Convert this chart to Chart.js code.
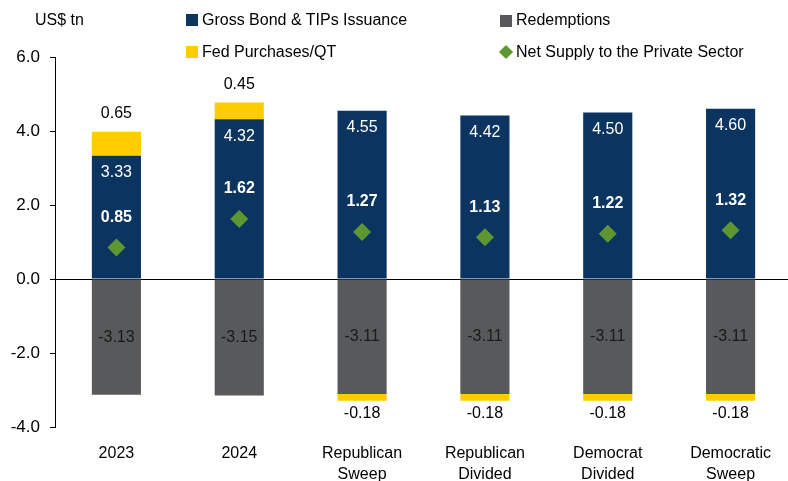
<!DOCTYPE html>
<html>
<head>
<meta charset="utf-8">
<script src="https://cdn.jsdelivr.net/npm/chart.js@4/dist/chart.umd.min.js"></script>
<style>
  body { margin: 0; overflow: hidden; background: #fff; font-family: "Liberation Sans", Arial, sans-serif; }
  #wrap { position: relative; width: 801px; height: 481px; }
  .lg { position: absolute; font-size: 16px; color: #000; white-space: nowrap; line-height: 16px; }
  .sw { position: absolute; width: 12px; height: 12px; }
  .dm { position: absolute; width: 10px; height: 10px; transform: rotate(45deg); }
</style>
</head>
<body>
<div id="wrap">
  <canvas id="chart-supply" width="801" height="481"></canvas>
  <div class="lg" style="left:35px;top:12px;">US$ tn</div>
  <div class="sw" style="left:186px;top:14px;background:#0b3560;"></div>
  <div class="lg" style="left:202px;top:12px;">Gross Bond &amp; TIPs Issuance</div>
  <div class="sw" style="left:500px;top:15px;background:#58595b;"></div>
  <div class="lg" style="left:516px;top:12px;">Redemptions</div>
  <div class="sw" style="left:186px;top:46px;background:#ffcc00;"></div>
  <div class="lg" style="left:202px;top:44px;">Fed Purchases/QT</div>
  <div class="dm" style="left:501px;top:47px;background:#5e9732;"></div>
  <div class="lg" style="left:516px;top:44px;">Net Supply to the Private Sector</div>
</div>
<script>
// Treasury supply by year / election scenario, US$ tn
const categories = [['2023'], ['2024'], ['Republican', 'Sweep'], ['Republican', 'Divided'], ['Democrat', 'Divided'], ['Democratic', 'Sweep']];
const grossIssuance = [3.33, 4.32, 4.55, 4.42, 4.50, 4.60];
const redemptions = [-3.13, -3.15, -3.11, -3.11, -3.11, -3.11];
const fedPurchases = [0.65, 0.45, -0.18, -0.18, -0.18, -0.18];
const netSupply = [0.85, 1.62, 1.27, 1.13, 1.22, 1.32];
const yTicks = [-4, -2, 0, 2, 4, 6];

const FONT = '"Liberation Sans", Arial, sans-serif';

// value labels on bars and points
const valueLabels = {
  id: 'valueLabels',
  afterDatasetsDraw(chart) {
    const ctx = chart.ctx;
    ctx.save();
    ctx.textAlign = 'center';
    ctx.textBaseline = 'middle';
    const gross = chart.getDatasetMeta(0).data;
    const red = chart.getDatasetMeta(1).data;
    const fed = chart.getDatasetMeta(2).data;
    const net = chart.getDatasetMeta(3).data;
    categories.forEach((c, i) => {
      ctx.font = '16px ' + FONT;
      ctx.fillStyle = '#ffffff';
      ctx.fillText(grossIssuance[i].toFixed(2), gross[i].x, gross[i].y + 17);

      ctx.fillStyle = '#1a1a1a';
      ctx.fillText(redemptions[i].toFixed(2), red[i].x, (red[i].y + red[i].base) / 2);

      ctx.fillStyle = '#000000';
      if (fedPurchases[i] >= 0) {
        ctx.fillText(fedPurchases[i].toFixed(2), fed[i].x, fed[i].y - 18);
      } else {
        ctx.fillText(fedPurchases[i].toFixed(2), fed[i].x, fed[i].y + 13);
      }

      ctx.font = 'bold 16px ' + FONT;
      ctx.fillStyle = '#ffffff';
      ctx.fillText(netSupply[i].toFixed(2), net[i].x, net[i].y - 30);
    });
    ctx.restore();
  }
};

new Chart(document.getElementById('chart-supply'), {
  data: {
    labels: categories,
    datasets: [
      { type: 'bar', label: 'Gross Bond & TIPs Issuance', data: grossIssuance, backgroundColor: '#0b3560', stack: 's', order: 1, barPercentage: 0.4, categoryPercentage: 1.0 },
      { type: 'bar', label: 'Redemptions', data: redemptions, backgroundColor: '#58595b', stack: 's', order: 1, barPercentage: 0.4, categoryPercentage: 1.0 },
      { type: 'bar', label: 'Fed Purchases/QT', data: fedPurchases, backgroundColor: '#ffcc00', stack: 's', order: 1, barPercentage: 0.4, categoryPercentage: 1.0 },
      { type: 'line', label: 'Net Supply to the Private Sector', data: netSupply, stack: 'net', order: 0, showLine: false,
        pointStyle: 'rectRot', pointRadius: 9, pointBackgroundColor: '#5e9732', pointBorderWidth: 0 }
    ]
  },
  options: {
    responsive: false,
    devicePixelRatio: 1,
    animation: false,
    layout: { padding: { top: 57, right: 0, left: 0, bottom: 0 } },
    plugins: { legend: { display: false }, tooltip: { enabled: false } },
    scales: {
      x: {
        stacked: true,
        grid: { display: false },
        border: { display: false },
        ticks: { color: '#000', font: { family: FONT, size: 16, lineHeight: 1.3 }, padding: 8, maxRotation: 0, autoSkip: false },
        afterFit(scale) { scale.height = 54; }
      },
      y: {
        stacked: true,
        min: -4, max: 6,
        afterBuildTicks(scale) { scale.ticks = yTicks.map(v => ({ value: v })); },
        grid: {
          drawOnChartArea: true,
          color: c => (c.tick && c.tick.value === 0) ? '#000' : 'rgba(0,0,0,0)',
          tickColor: '#000', tickLength: 5, lineWidth: 1
        },
        border: { display: true, color: '#000', width: 1 },
        ticks: { color: '#000', font: { family: FONT, size: 17 }, padding: 10, callback: v => v.toFixed(1) },
        afterFit(scale) { scale.width = 55; }
      }
    }
  },
  plugins: [valueLabels]
});
</script>
</body>
</html>
